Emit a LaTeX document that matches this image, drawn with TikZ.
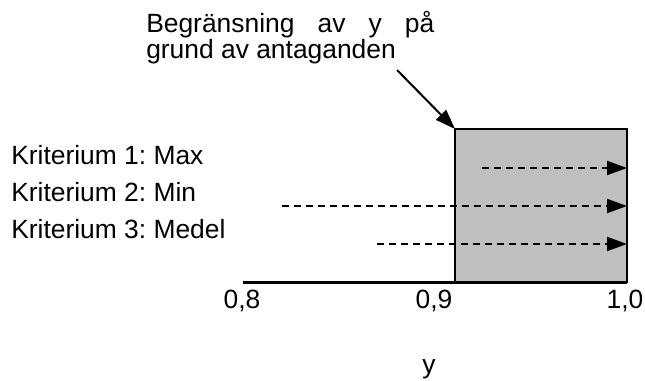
\documentclass[tikz,border=0pt]{standalone}
\usepackage{fontspec}
\setmainfont{Liberation Sans}
\usetikzlibrary{arrows.meta}
\frenchspacing

\begin{document}
\begin{tikzpicture}[x=0.75pt, y=-0.75pt,
        every node/.style={font=\fontsize{19.8}{19.8}\selectfont, inner sep=0pt},
        head/.style={-{Triangle[length=15pt, width=10.5pt]}},
        pointer/.style={head, line width=1.5pt},
        crit arrow/.style={head, line width=1.5pt, dash pattern=on 5.25pt off 3.75pt}]
        \useasboundingbox (0,0) rectangle (645,380);
        % area allowed by the assumptions
        \node[draw, fill=black!25, line width=1.5pt, outer sep=0pt, anchor=north west,
            minimum width=129pt, minimum height=114.75pt] (region) at (455,129) {};
        \coordinate (axis-start) at (243,282);
        \draw[line width=2.25pt] (axis-start) -- (region.south east);
        \node[anchor=base west] (title-top) at (146,32)
            {\hbox to 216pt{Begränsning\hfill av\hfill y\hfill på}};
        \node[anchor=base west] (title-bottom) at (146,58) {grund av antaganden};
        \coordinate (pointer-start) at (397,70);
        \draw[pointer] (pointer-start) -- (region.north west);
        \foreach \index/\critname/\ybase/\xstart/\yarrow in
            {1/Max/164/482/168, 2/Min/201/282/206, 3/Medel/238/377/244} {
            \node[anchor=base west] (crit-\index) at (11,\ybase) {Kriterium \index: \critname};
            \coordinate (start-\index) at (\xstart,\yarrow);
            \draw[crit arrow] (start-\index) -- (start-\index -| region.east);
        }
        \foreach \index/\xpos/\ticklabel in {1/242/{0,8}, 2/434/{0,9}, 3/625/{1,0}}
            \node[anchor=base] (tick-\index) at (\xpos,308) {\ticklabel};
        \node[anchor=base] (axis-label) at (429,373) {y};
    \end{tikzpicture}
\end{document}
